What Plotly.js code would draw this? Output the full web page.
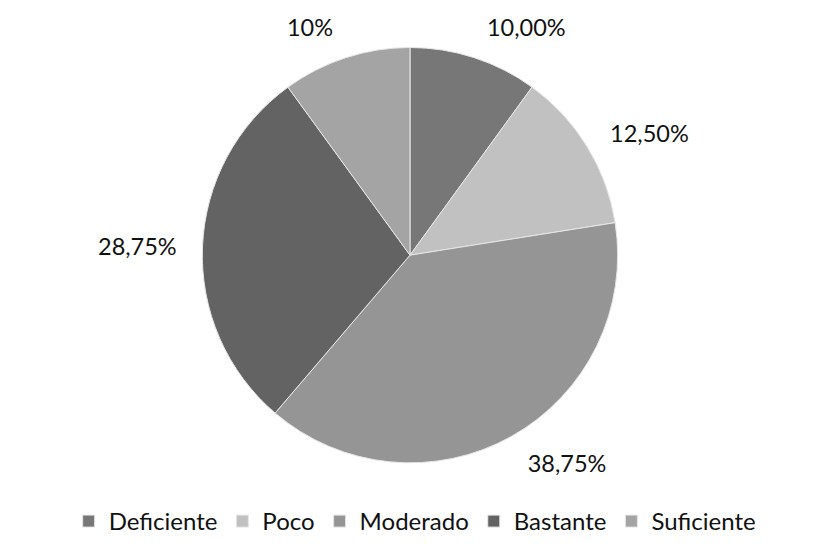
<!DOCTYPE html>
<html><head><meta charset="utf-8">
<script src="https://cdn.plot.ly/plotly-3.0.1.min.js"></script>
<style>html,body{margin:0;padding:0;background:#fff;}</style>
</head><body>
<div id="chart" style="width:836px;height:544px;"></div>
<script>
var categories = ["Deficiente", "Poco", "Moderado", "Bastante", "Suficiente"];
var values = [10, 12.5, 38.75, 28.75, 10];
var labelsText = ["10,00%", "12,50%", "38,75%", "28,75%", "10%"];
var colors = ["#777777", "#c1c1c1", "#959595", "#636363", "#a4a4a4"];

var W = 836, H = 544;
var cx = 410, cy = 258, R = 210, Rlab = 229;
function dom(r) {
  return {x: [(cx - r) / W, (cx + r) / W], y: [(H - cy - r) / H, (H - cy + r) / H]};
}
var FONT = "Lato, 'Open Sans', sans-serif";

var main = {
  type: "pie",
  labels: categories,
  values: values,
  textinfo: "none",
  hoverinfo: "label+percent",
  sort: false,
  direction: "clockwise",
  rotation: 0,
  domain: dom(R),
  marker: {colors: colors, line: {color: "#e6e6e6", width: 1}},
  automargin: false
};

var labelsRing = {
  type: "pie",
  labels: categories,
  values: values,
  text: labelsText,
  textinfo: "text",
  textposition: "outside",
  hoverinfo: "skip",
  showlegend: false,
  sort: false,
  direction: "clockwise",
  rotation: 0,
  domain: dom(Rlab),
  marker: {colors: ["rgba(0,0,0,0)","rgba(0,0,0,0)","rgba(0,0,0,0)","rgba(0,0,0,0)","rgba(0,0,0,0)"], line: {width: 0}},
  outsidetextfont: {family: FONT, size: 23.5, color: "#111"},
  automargin: false
};

var layout = {
  width: W, height: H,
  margin: {l: 0, r: 0, t: 0, b: 0},
  paper_bgcolor: "#fff",
  showlegend: true,
  legend: {orientation: "h", x: 0.496, xanchor: "center", y: (H - 505) / H, yanchor: "top",
           font: {family: FONT, size: 24, color: "#111"},
           itemwidth: 30, traceorder: "normal"},
  font: {family: FONT}
};
Plotly.newPlot("chart", [main, labelsRing], layout, {displayModeBar: false});
</script>
</body></html>
